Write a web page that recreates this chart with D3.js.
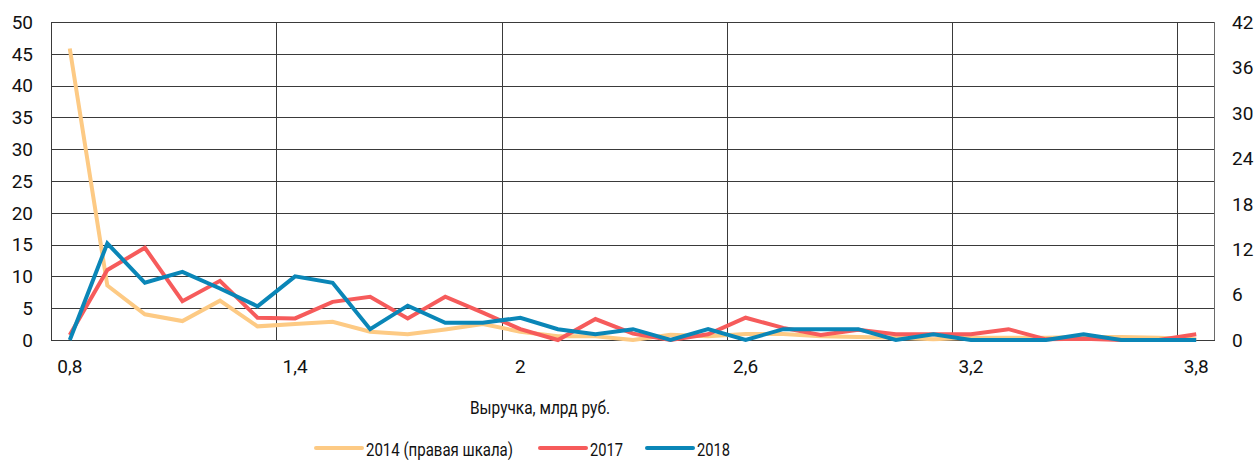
<!DOCTYPE html>
<html>
<head>
<meta charset="utf-8">
<script src="https://cdn.jsdelivr.net/npm/d3@7"></script>
<style>
  body { margin: 0; background: #fff; }
  svg text { font-family: Roboto, "Liberation Sans", sans-serif; fill: #111; }
</style>
</head>
<body>
<svg id="chart"></svg>
<script>
// revenue bins, bn rub (category axis)
const categories = ["0,8","0,9","1","1,1","1,2","1,3","1,4","1,5","1,6","1,7","1,8","1,9","2","2,1","2,2","2,3",
  "2,4","2,5","2,6","2,7","2,8","2,9","3","3,1","3,2","3,3","3,4","3,5","3,6","3,7","3,8"];
const labelledCats = ["0,8","1,4","2","2,6","3,2","3,8"];

// 2014 is plotted on the right scale
const s2014 = [38.5,7.2,3.4,2.5,5.2,1.8,2.1,2.4,1.1,0.75,1.4,2.1,1.1,0.5,0.5,0,
  0.7,0.5,0.8,0.8,0.5,0.4,0.3,0.1,0.3,0.3,0.3,0.4,0.4,0.3,0.1];
const s2017 = [0.8,11.0,14.5,6.1,9.3,3.5,3.4,6.0,6.8,3.4,6.8,4.3,1.7,0,3.3,1.0,
  0,0.9,3.5,1.9,0.8,1.6,0.9,0.9,0.9,1.7,0.1,0.2,0,0,0.9];
const s2018 = [0,15.2,9.0,10.7,8.1,5.3,10.0,9.0,1.7,5.4,2.7,2.7,3.5,1.7,0.9,1.7,
  0,1.7,0,1.7,1.7,1.7,0,0.9,0,0,0,0.9,0,0,0];

const leftTicks = [0,5,10,15,20,25,30,35,40,45,50];
const rightTicks = [0,6,12,18,24,30,36,42];

const seriesNames = ["2014 (правая шкала)", "2017", "2018"];
const seriesColors = ["#fdca84", "#f65b5b", "#0a86b7"];

const W = 1257, H = 460;
const margin = {top: 22, right: 42, bottom: 120, left: 51};
const plotW = W - margin.left - margin.right;
const plotH = H - margin.top - margin.bottom;

const svg = d3.select("#chart").attr("width", W).attr("height", H);
const g = svg.append("g").attr("transform", `translate(${margin.left},${margin.top})`);

const x = d3.scaleBand().domain(categories).range([0, plotW]).padding(0);
const yL = d3.scaleLinear().domain([0, 50]).range([plotH, 0]);
const yR = d3.scaleLinear().domain([0, 42]).range([plotH, 0]);
const cx = c => x(c) + x.bandwidth() / 2;

// horizontal grid
g.selectAll(".hgrid").data(leftTicks).join("line")
  .attr("class", "hgrid")
  .attr("x1", 0).attr("x2", plotW)
  .attr("y1", d => Math.round(yL(d)) + 0.5).attr("y2", d => Math.round(yL(d)) + 0.5)
  .attr("stroke", "#3a3a3a").attr("stroke-width", 1);

// vertical grid at the left edge of each labelled category
g.selectAll(".vgrid").data(labelledCats).join("line")
  .attr("class", "vgrid")
  .attr("x1", d => Math.round(x(d)) + 0.5).attr("x2", d => Math.round(x(d)) + 0.5)
  .attr("y1", 0).attr("y2", plotH)
  .attr("stroke", "#3a3a3a").attr("stroke-width", 1);

// right border
g.append("line")
  .attr("x1", plotW - 0.5).attr("x2", plotW - 0.5)
  .attr("y1", 0).attr("y2", plotH)
  .attr("stroke", "#6a6a6a").attr("stroke-width", 1);

// left axis labels
g.selectAll(".ltick").data(leftTicks).join("text")
  .attr("x", -18).attr("y", d => yL(d)).attr("dy", "0.36em")
  .attr("text-anchor", "end").style("font-size", "19px")
  .text(d => d);

// right axis labels
g.selectAll(".rtick").data(rightTicks).join("text")
  .attr("x", plotW + 17).attr("y", d => yR(d)).attr("dy", "0.36em")
  .attr("text-anchor", "start").style("font-size", "19px")
  .text(d => d);

// x labels
g.selectAll(".xtick").data(labelledCats).join("text")
  .attr("x", d => cx(d)).attr("y", plotH + 33)
  .attr("text-anchor", "middle").style("font-size", "19px")
  .text(d => d);

// axis title (condensed to the original width)
svg.append("text")
  .attr("x", 470).attr("y", 414)
  .attr("textLength", 140).attr("lengthAdjust", "spacingAndGlyphs")
  .style("font-size", "19px")
  .text("Выручка, млрд руб.");

// lines
const series = [
  {vals: s2014, y: yR},
  {vals: s2017, y: yL},
  {vals: s2018, y: yL}
];
series.forEach((s, i) => {
  const line = d3.line()
    .x((d, j) => cx(categories[j]))
    .y(d => s.y(d));
  g.append("path")
    .datum(s.vals)
    .attr("d", line)
    .attr("fill", "none")
    .attr("stroke", seriesColors[i])
    .attr("stroke-width", 4)
    .attr("stroke-linejoin", "miter");
});

// legend
const legendItems = [
  {x1: 316, x2: 362, tx: 366, tw: 147},
  {x1: 540, x2: 586, tx: 590, tw: 33},
  {x1: 647, x2: 693, tx: 697, tw: 33}
];
legendItems.forEach((d, i) => {
  svg.append("line")
    .attr("x1", d.x1).attr("x2", d.x2).attr("y1", 448).attr("y2", 448)
    .attr("stroke", seriesColors[i]).attr("stroke-width", 4)
    .attr("stroke-linecap", "round");
  svg.append("text")
    .attr("x", d.tx).attr("y", 456)
    .attr("textLength", d.tw).attr("lengthAdjust", "spacingAndGlyphs")
    .style("font-size", "19px")
    .text(seriesNames[i]);
});
</script>
</body>
</html>
